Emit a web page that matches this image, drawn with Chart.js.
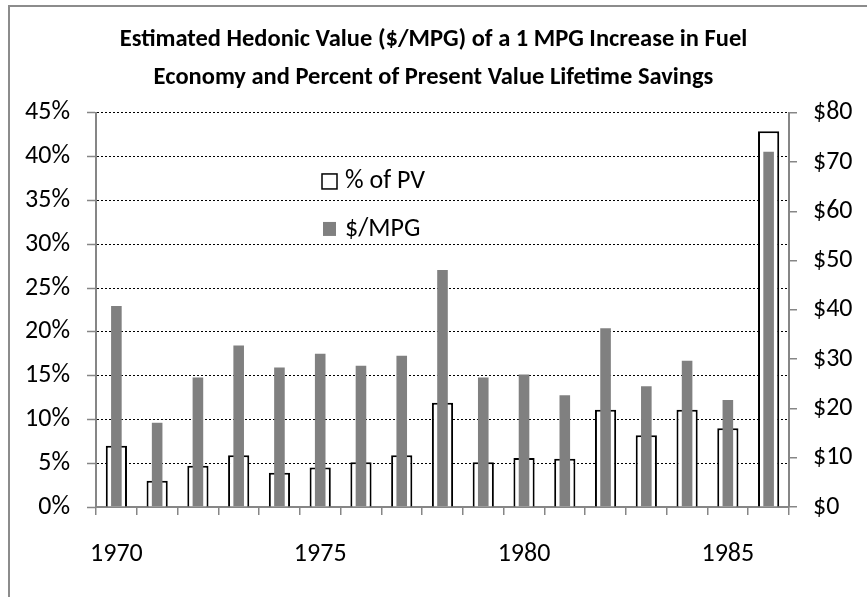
<!DOCTYPE html>
<html>
<head>
<meta charset="utf-8">
<script src="https://cdn.jsdelivr.net/npm/chart.js@4"></script>
<style>
  html, body { margin: 0; padding: 0; background: #fff; }
  #wrap { position: relative; width: 867px; height: 597px; }
  #frame { position: absolute; left: 8px; top: 5px; width: 900px; height: 700px;
           border-left: 2px solid #8c8c8c; border-top: 2px solid #8c8c8c; }
  canvas { position: absolute; left: 0; top: 0; }
</style>
</head>
<body>
<div id="wrap">
  <div id="frame"></div>
  <canvas id="chart" width="867" height="597"></canvas>
</div>
<script>
// 연도 (카테고리)
const years = [1970, 1971, 1972, 1973, 1974, 1975, 1976, 1977, 1978,
               1979, 1980, 1981, 1982, 1983, 1984, 1985, 1986];
// 현재가치 대비 비율 (%)
const pctOfPV = [7.0, 3.0, 4.7, 5.9, 3.9, 4.5, 5.1, 5.9, 11.9,
                 5.1, 5.6, 5.5, 11.1, 8.2, 11.1, 9.0, 42.9];
// 1 MPG 당 가치 ($)
const dollarPerMPG = [40.8, 17.1, 26.3, 32.8, 28.3, 31.1, 28.7, 30.7, 48.1,
                      26.3, 26.9, 22.7, 36.3, 24.5, 29.7, 21.7, 72.1];
// 제목 / 범례 텍스트
const titleLines = ['Estimated Hedonic Value ($/MPG) of a 1 MPG Increase in Fuel',
                    'Economy and Percent of Present Value Lifetime Savings'];
const seriesNames = ['% of PV', '$/MPG'];

const FONT = 'Carlito, Calibri, Lato, sans-serif';
const AXIS_GRAY = '#868686';

// 플롯 안쪽에 범례 그리기
const innerLegend = {
    id: 'innerLegend',
    afterDraw(chart) {
        const { ctx, chartArea } = chart;
        const x = chartArea.left + 226;
        const y = chartArea.top + 61;
        ctx.save();
        ctx.font = '26px ' + FONT;
        ctx.textBaseline = 'middle';
        // % of PV
        ctx.fillStyle = '#fff';
        ctx.fillRect(x, y, 15, 15);
        ctx.strokeStyle = '#000';
        ctx.lineWidth = 1.5;
        ctx.strokeRect(x, y, 15, 15);
        ctx.fillStyle = '#000';
        ctx.fillText(seriesNames[0], x + 23, y + 8);
        // $/MPG
        ctx.fillStyle = '#808080';
        ctx.fillRect(x + 1, y + 48, 13, 14);
        ctx.fillStyle = '#000';
        ctx.fillText(seriesNames[1], x + 23, y + 56);
        ctx.restore();
    }
};

const ctx = document.getElementById('chart').getContext('2d');
new Chart(ctx, {
    type: 'bar',
    data: {
        labels: years,
        datasets: [{
            label: seriesNames[0],
            data: pctOfPV,
            yAxisID: 'yPct',
            backgroundColor: '#ffffff',
            borderColor: '#000000',
            borderWidth: 2,
            grouped: false,
            order: 1,
            barPercentage: 0.52,
            categoryPercentage: 1
        }, {
            label: seriesNames[1],
            data: dollarPerMPG,
            yAxisID: 'yDollar',
            backgroundColor: '#808080',
            borderWidth: 0,
            grouped: false,
            order: 0,
            barPercentage: 0.26,
            categoryPercentage: 1
        }]
    },
    options: {
        responsive: false,
        animation: false,
        layout: { padding: 0 },
        plugins: {
            legend: { display: false },
            tooltip: { enabled: false },
            title: {
                display: true,
                text: titleLines,
                color: '#000',
                font: { family: FONT, size: 24.5, weight: 'bold', lineHeight: 1.55 },
                padding: { top: 21, bottom: 16 }
            }
        },
        scales: {
            x: {
                offset: true,
                grid: {
                    display: true, drawOnChartArea: false, offset: true,
                    color: AXIS_GRAY, tickLength: 8, lineWidth: 1.5
                },
                border: { color: AXIS_GRAY, width: 2 },
                ticks: {
                    autoSkip: false, maxRotation: 0, padding: 24,
                    color: '#000',
                    font: { family: FONT, size: 26 },
                    callback: function(value, i) {
                        return years[i] % 5 === 0 ? String(years[i]) : '';
                    }
                },
                afterFit: function(scale) { scale.height = 90; }
            },
            yPct: {
                position: 'left',
                min: 0, max: 45,
                grid: {
                    color: '#000', lineWidth: 1,
                    tickColor: AXIS_GRAY, tickLength: 9, tickWidth: 1.5,
                    tickBorderDash: []
                },
                border: { color: AXIS_GRAY, width: 2, dash: [2, 2] },
                ticks: {
                    stepSize: 5, padding: 17, color: '#000',
                    font: { family: FONT, size: 26 },
                    callback: function(value) { return value + '%'; }
                },
                afterFit: function(scale) { scale.width = 96; }
            },
            yDollar: {
                position: 'right',
                min: 0, max: 80,
                grid: {
                    drawOnChartArea: false,
                    color: AXIS_GRAY, tickLength: 8, lineWidth: 1.5
                },
                border: { color: AXIS_GRAY, width: 2 },
                ticks: {
                    stepSize: 10, padding: 16, color: '#000',
                    font: { family: FONT, size: 26 },
                    callback: function(value) { return '$' + value; }
                },
                afterFit: function(scale) { scale.width = 78; }
            }
        }
    },
    plugins: [innerLegend]
});
</script>
</body>
</html>
